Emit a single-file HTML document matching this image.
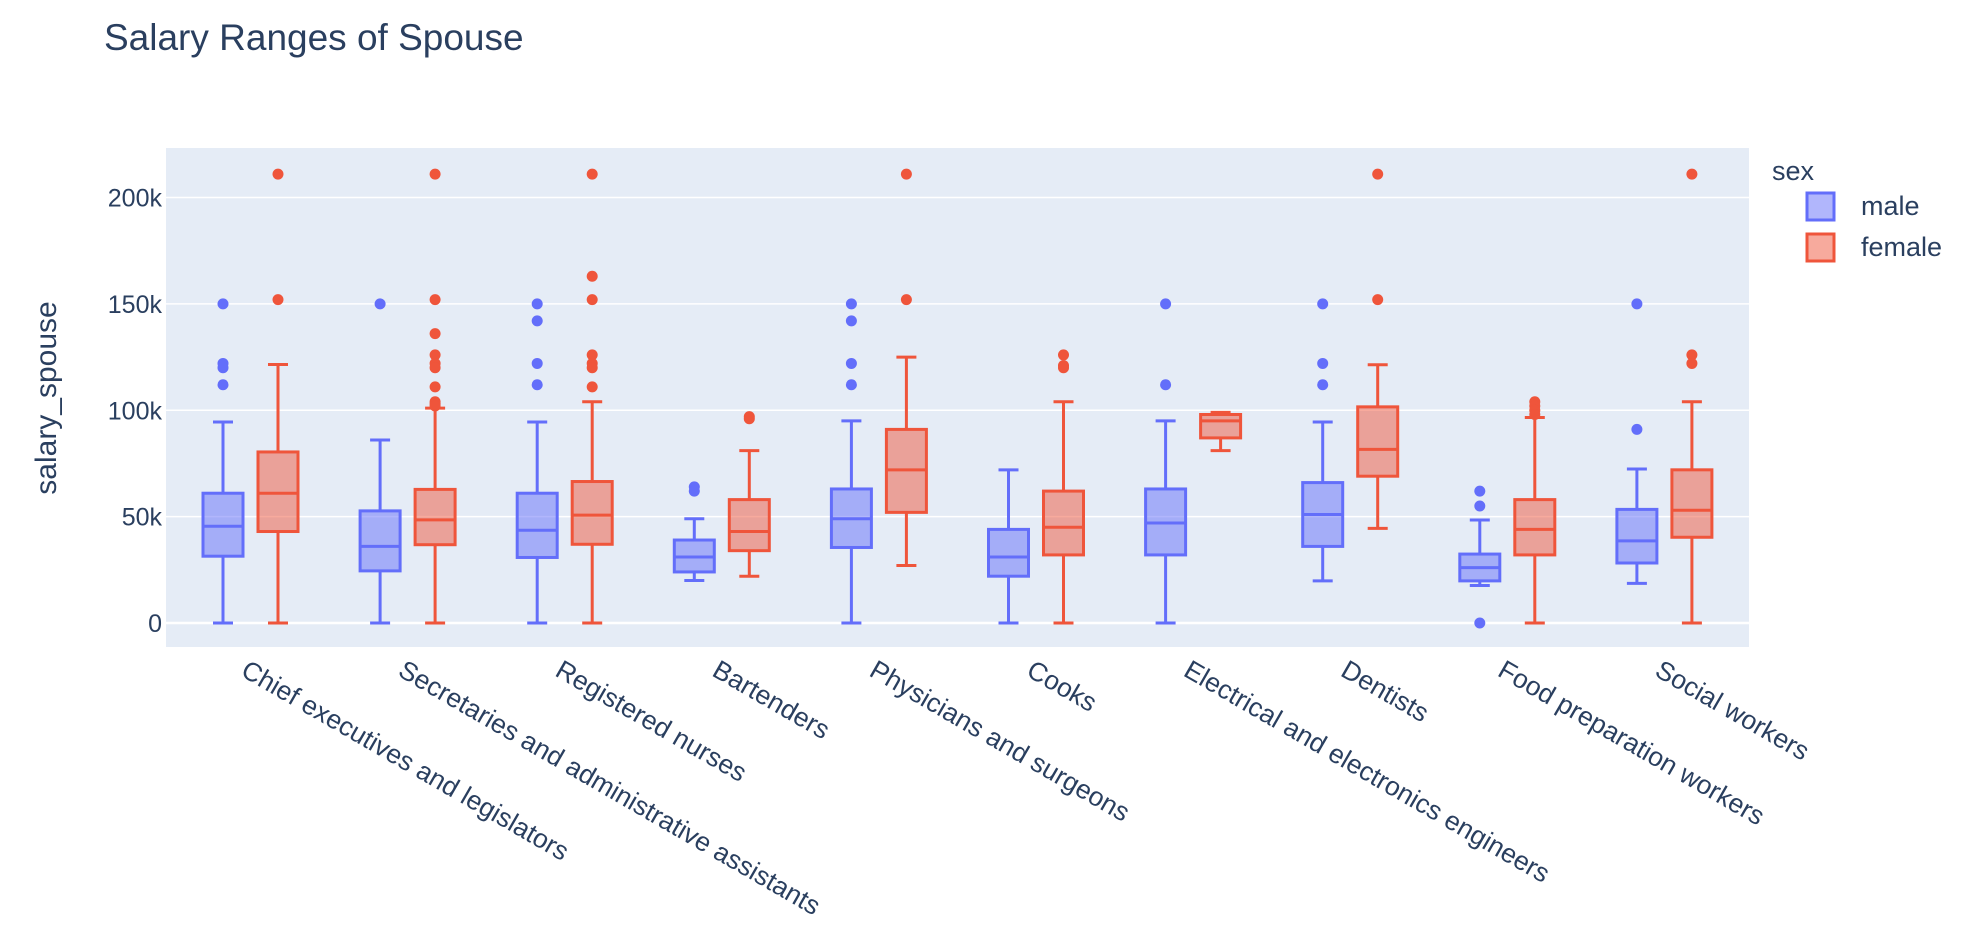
<!DOCTYPE html>
<html><head><meta charset="utf-8">
<style>
html,body{margin:0;padding:0;background:#fff;width:1970px;height:932px;overflow:hidden}
svg{display:block;font-family:"Liberation Sans",Arial,sans-serif}
</style></head>
<body>
<svg id="chart" width="1970" height="932"></svg>
<script>
const categories=["Chief executives and legislators","Secretaries and administrative assistants","Registered nurses","Bartenders","Physicians and surgeons","Cooks","Electrical and electronics engineers","Dentists","Food preparation workers","Social workers"];
// [lowerWhisker, q1, median, q3, upperWhisker] in thousands
const maleStats=[[0,31.4,45.5,61,94.5],[0,24.5,36,52.7,86],[0,30.8,43.6,61,94.5],[20,24,31,39,49],[0,35.5,49,63,95],[0,22,31,44,72],[0,32,47,63,95],[19.8,36,51,66,94.5],[17.6,19.8,26,32.4,48.4],[18.6,28.2,38.6,53.4,72.4]];
const femaleStats=[[0,43,61,80.4,121.5],[0,36.8,48.5,62.8,101],[0,37,50.7,66.5,104],[22,34,43,58,81],[27,52,72,91,125],[0,32,45,62,104],[81,87,95,98,99],[44.5,69,81.6,101.6,121.4],[0,32,44,58,96.6],[0,40.3,53,72,104]];
const maleOutliers=[[150,122,120,112],[150],[150,142,122,112],[64,62],[150,142,122,112],[],[150,112],[150,122,112],[62,55,0],[150,91]];
const femaleOutliers=[[211,152],[211,152,136,126,122,120,111,104,103,102],[211,163,152,126,122,120,111],[97,96],[211,152],[126,121,120],[],[211,152],[104,102,100,98],[211,126,122]];
const yTicks=[0,50,100,150,200];
const yTickLabels=["0","50k","100k","150k","200k"];

const svg=document.getElementById('chart');
const NS='http://www.w3.org/2000/svg';
const PL=166,PR=1749,PT=148,PB=647;
function y(v){return 623-(v*(623-197.5)/200);}
function xc(i){return 250.5+157.1*i;}
function mk(tag,attrs,parent){const e=document.createElementNS(NS,tag);for(const k in attrs)e.setAttribute(k,attrs[k]);(parent||svg).appendChild(e);return e;}

const bg=mk('rect',{x:PL,y:PT,width:PR-PL,height:PB-PT,fill:'#e5ecf6'});



yTicks.forEach((t,i)=>{
  const g=mk('line',{x1:PL,x2:PR,y1:y(t),y2:y(t),stroke:'#fff','stroke-width':t===0?2.5:1.5});
  
  
  const tx=mk('text',{x:162,y:y(t)+9,'text-anchor':'end','font-size':25,fill:'#2a3f5f'});
  tx.textContent=yTickLabels[i];
  
  
});

function drawBox(stats,outs,cx,stroke,fill,name){
  const g=mk('g',{});
  
  
  const [lo,q1,md,q3,hi]=stats;const hw=20,cw=10;
  mk('line',{x1:cx,x2:cx,y1:y(hi),y2:y(q3),stroke:stroke,'stroke-width':3},g);
  mk('line',{x1:cx,x2:cx,y1:y(q1),y2:y(lo),stroke:stroke,'stroke-width':3},g);
  mk('line',{x1:cx-cw,x2:cx+cw,y1:y(hi),y2:y(hi),stroke:stroke,'stroke-width':3},g);
  mk('line',{x1:cx-cw,x2:cx+cw,y1:y(lo),y2:y(lo),stroke:stroke,'stroke-width':3},g);
  mk('rect',{x:cx-hw,y:y(q3),width:2*hw,height:y(q1)-y(q3),fill:fill,stroke:stroke,'stroke-width':3},g);
  mk('line',{x1:cx-hw,x2:cx+hw,y1:y(md),y2:y(md),stroke:stroke,'stroke-width':3},g);
  outs.forEach(o=>{
    const c=mk('circle',{cx:cx,cy:y(o),r:5.5,fill:stroke},g);
    
    
  });
}
categories.forEach((c,i)=>{
  drawBox(maleStats[i],maleOutliers[i],xc(i)-27.5,'#636efa','rgba(99,110,250,0.5)','box-male');
  drawBox(femaleStats[i],femaleOutliers[i],xc(i)+27.5,'#ef553b','rgba(239,85,59,0.5)','box-female');
  const t=mk('text',{x:0,y:0,'font-size':26.5,fill:'#2a3f5f',transform:`translate(${xc(i)-11},${675}) rotate(30)`});
  t.textContent=c;
  
  
});

const title=mk('text',{x:104,y:50,'font-size':37,fill:'#2a3f5f'});
title.textContent='Salary Ranges of Spouse';



const yt=mk('text',{x:0,y:0,'font-size':30,fill:'#2a3f5f','text-anchor':'middle',transform:'translate(56,398) rotate(-90)'});
yt.textContent='salary_spouse';



const lt=mk('text',{x:1772,y:180,'font-size':27,fill:'#2a3f5f'});
lt.textContent='sex';



[['male','#636efa','rgba(99,110,250,0.5)',206],['female','#ef553b','rgba(239,85,59,0.5)',247]].forEach(d=>{
  const g=mk('g',{});
  
  
  mk('rect',{x:1807,y:d[3]-13,width:27,height:27,fill:d[2],stroke:d[1],'stroke-width':3},g);
  const t=mk('text',{x:1861,y:d[3]+9,'font-size':27,fill:'#2a3f5f'},g);
  t.textContent=d[0];
});
</script>
</body></html>
